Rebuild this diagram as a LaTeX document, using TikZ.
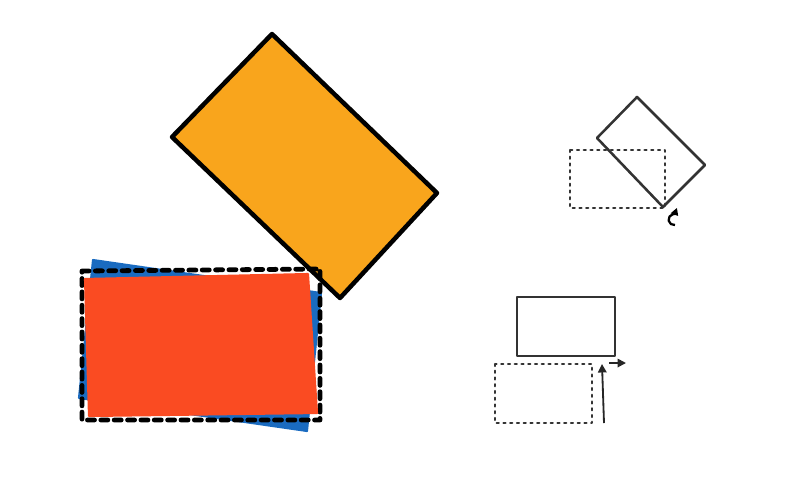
\documentclass[tikz,border=0pt]{standalone}
\usepackage{xcolor,tikz}
\usetikzlibrary{arrows.meta}
\definecolor{cardorange}{RGB}{249,165,28}
\definecolor{cardred}{RGB}{250,75,34}
\definecolor{cardblue}{RGB}{26,107,192}

\begin{document}
\begin{tikzpicture}[x=0.025cm,y=-0.025cm,line join=round,
  ghost/.style={line width=1.6pt,dash pattern=on 1.4pt off 3.4pt,line cap=round,black!80},
  outline/.style={line width=1.8pt,black!80},
  move/.style={line width=1.3pt,black!85,-{Triangle[length=6pt,width=6pt]}}]
\useasboundingbox (0,0) rectangle (797,483);
% tilted card
\filldraw[fill=cardorange,line width=3.2pt] (272,34)--(437,193)--(340,298)--(172,137)--cycle;
% stacked cards
\filldraw[fill=cardblue,draw=cardblue,line width=1.5pt] (93,260)--(321,293)--(307,431)--(79,398)--cycle;
\draw[line width=3.4pt,line cap=round,dash pattern=on 5pt off 4.5pt] (82,271)--(320,269)--(320,420)--(82,420)--cycle;
\filldraw[fill=cardred,draw=cardred,line width=1.5pt] (85,279)--(308,274)--(317,413)--(89,416)--cycle;
% rotate hint
\draw[ghost] (570,150) rectangle (665,208);
\draw[outline] (637,97)--(705,165)--(663,207)--(597,138)--cycle;
\draw[line width=1.6pt,-{Triangle[length=5pt,width=5.5pt]}] (675,225) arc (80:320:5.5);
% move hint
\draw[ghost] (495,364) rectangle (592,423);
\draw[outline] (517,297) rectangle (615,356);
\draw[move] (604,423)--(602,364);
\draw[move] (609,363)--(626,363);
\end{tikzpicture}
\end{document}
